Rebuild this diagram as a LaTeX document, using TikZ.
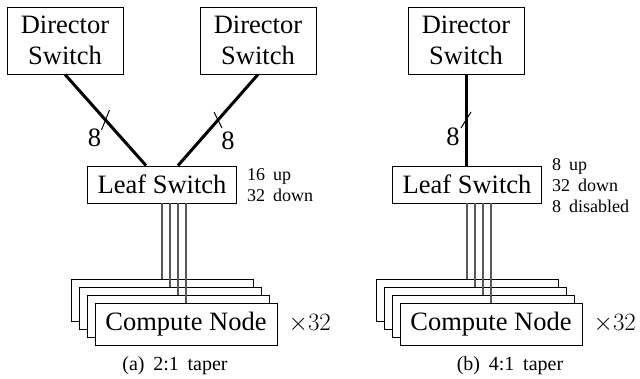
\documentclass[tikz,border=0pt]{standalone}
\usepackage{fontspec}
\usetikzlibrary{calc}
\setmainfont{Liberation Serif}
\newfontfamily\widespfont[WordSpace=1.75]{Liberation Serif}
\begin{document}
\begin{tikzpicture}[x=1pt,y=-1pt,
  big/.style={font=\fontsize{26.5}{31}\selectfont},
  smalltext/.style={font=\widespfont\fontsize{18}{21}\selectfont},
  captext/.style={font=\widespfont\fontsize{20}{24}\selectfont},
  dirbox/.style={draw, line width=0.9pt, fill=white, inner sep=0pt, align=center, big, minimum width=116pt, minimum height=67pt},
  leafbox/.style={draw, line width=0.9pt, fill=white, inner sep=0pt, big, minimum width=149pt, minimum height=37pt},
  cnbox/.style={draw, line width=0.9pt, fill=white, inner sep=0pt, big, minimum width=182pt, minimum height=42pt},
  uplink/.style={line width=3pt},
  tickmark/.style={line width=1pt},
  downlink/.style={draw=black!65, line width=1.2pt}]
\useasboundingbox (0,0) rectangle (640,378);

% ---------- (a) ----------
\node[dirbox] (d1) at (65,40.5) {Director\\Switch};
\node[dirbox] (d2) at (258,40.5) {Director\\Switch};
\node[leafbox] (l1) at (162,184.5) {Leaf Switch};
\draw[uplink] (d1.south) -- coordinate[pos=0.5] (m1) ([xshift=-16pt]l1.north);
\draw[uplink] (d2.south) -- coordinate[pos=0.5] (m2) ([xshift=16pt]l1.north);
\draw[tickmark] (m1) ++(-4,10) -- ++(8,-20);
\draw[tickmark] (m2) ++(-4,-8) -- ++(8,16);
\node[big, inner sep=0pt] (n1) at ([shift={(-11,18)}]m1) {8};
\node[big, inner sep=0pt] (n2) at ([shift={(10,21)}]m2) {8};
\node[smalltext, anchor=west, align=left, inner sep=0pt] (t1) at ([xshift=10pt,yshift=-1pt]l1.east) {16 up\\32 down};

\node[cnbox] (ca1) at (162,300) {};
\node[cnbox] (ca2) at (170,308) {};
\node[cnbox] (ca3) at (178,316) {};
\node[cnbox] (ca4) at (186,324) {Compute Node};
\draw[downlink] (ca1.north) -- (ca1.north |- l1.south);
\draw[downlink] (ca2.north) -- (ca2.north |- l1.south);
\draw[downlink] (ca3.north) -- (ca3.north |- l1.south);
\draw[downlink] (ca4.north) -- (ca4.north |- l1.south);
\node[big, anchor=west, inner sep=0pt] (x1) at ([xshift=11pt]ca4.east) {$\times32$};
\node[captext] (cap1) at (175,366) {(a) 2:1 taper};

% ---------- (b) ----------
\node[dirbox] (d3) at (466,40.5) {Director\\Switch};
\node[leafbox] (l2) at (467,184.5) {Leaf Switch};
\coordinate (u3) at (d3.south |- l2.north);
\draw[uplink] (d3.south) -- (u3);
\coordinate (m3) at ($(d3.south)!0.5!(u3)$);
\draw[tickmark] (m3) ++(-5,8) -- ++(10,-16);
\node[big, inner sep=0pt] (n3) at ([shift={(-13,17)}]m3) {8};
\node[smalltext, anchor=west, align=left, inner sep=0pt] (t2) at ([xshift=10pt,yshift=-1pt]l2.east) {8 up\\32 down\\8 disabled};

\node[cnbox] (cb1) at (467,300) {};
\node[cnbox] (cb2) at (475,308) {};
\node[cnbox] (cb3) at (483,316) {};
\node[cnbox] (cb4) at (491,324) {Compute Node};
\draw[downlink] (cb1.north) -- (cb1.north |- l2.south);
\draw[downlink] (cb2.north) -- (cb2.north |- l2.south);
\draw[downlink] (cb3.north) -- (cb3.north |- l2.south);
\draw[downlink] (cb4.north) -- (cb4.north |- l2.south);
\node[big, anchor=west, inner sep=0pt] (x2) at ([xshift=11pt]cb4.east) {$\times32$};
\node[captext] (cap2) at (510,366) {(b) 4:1 taper};
\end{tikzpicture}
\end{document}
